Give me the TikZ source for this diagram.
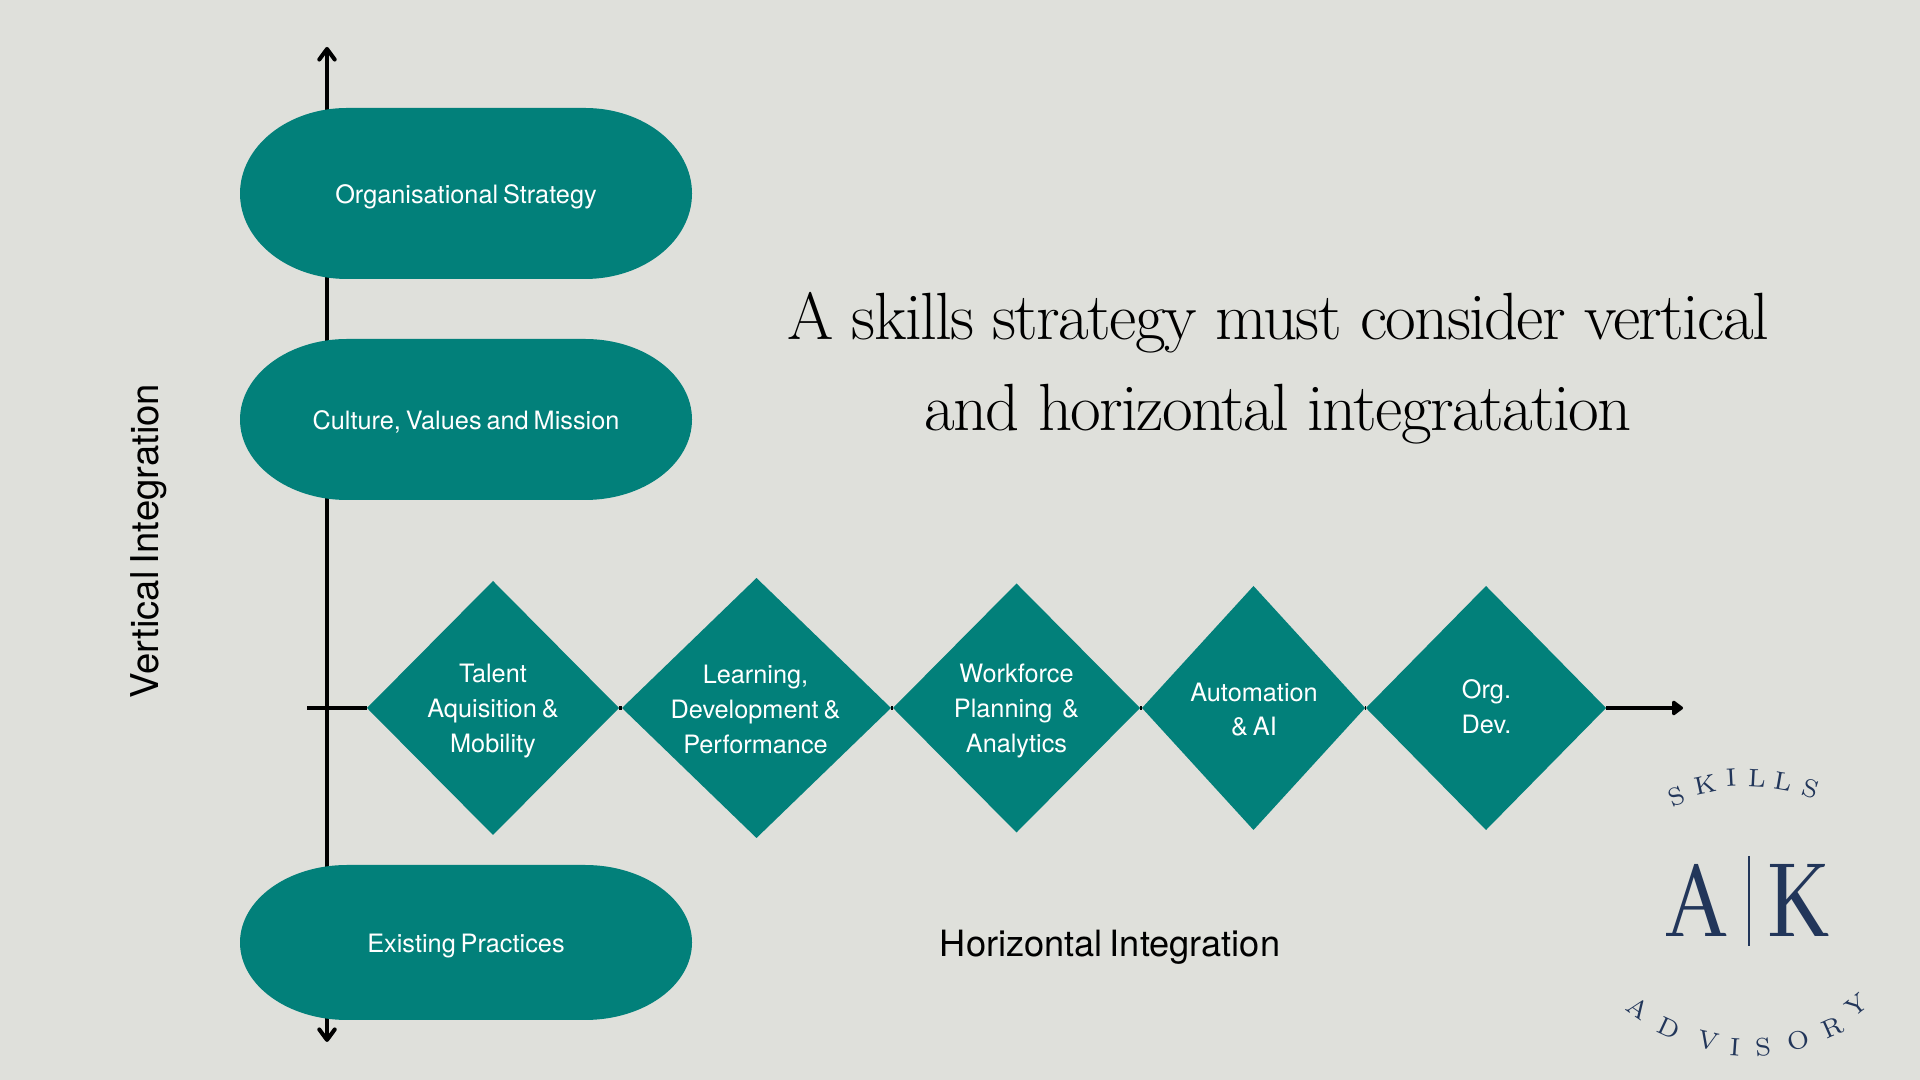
\documentclass[tikz,border=0pt]{standalone}
\usepackage{fontspec}
\setsansfont[WordSpace=0.7]{TeX Gyre Heros}
\newfontfamily\logofont{Abhaya Libre}
\newfontfamily\titlefont[LetterSpace=-2.5]{Latin Modern Roman}
\usepackage{xcolor}
\usepackage{tikz}
\usetikzlibrary{shapes.geometric,arrows.meta,positioning}
\definecolor{pagegrey}{RGB}{223, 224, 219}
\definecolor{skillteal}{RGB}{2, 128, 122}
\definecolor{logonavy}{RGB}{34, 54, 90}

\tikzset{
    axis/.style={line width=1.15pt,black},
    pillbox/.style={rectangle,inner sep=0pt,minimum width=4.52cm,minimum height=#1 cm,
        text=white,text height=7pt,text depth=1.5pt,font=\sffamily\fontsize{7.2}{9.9}\selectfont,
        path picture={\fill[skillteal] (path picture bounding box.west)
            arc[start angle=180,end angle=90,x radius=1.07,y radius=#1/2] -- ++(2.38,0)
            arc[start angle=90,end angle=-90,x radius=1.07,y radius=#1/2] -- ++(-2.38,0)
            arc[start angle=270,end angle=180,x radius=1.07,y radius=#1/2] -- cycle;}},
    diamondbox/.style={diamond,aspect=1,inner sep=0pt,outer sep=0pt,fill=skillteal},
    boxtext/.style={text=white,align=center,inner sep=0pt,font=\sffamily\fontsize{7.2}{9.9}\selectfont},
    axistext/.style={text=black,inner sep=0pt,font=\sffamily\fontsize{#1}{12}\selectfont},
    logobig/.style={text=logonavy,inner sep=0pt,xscale=0.82,transform shape,font=\logofont\fontsize{35}{35}\selectfont},
    logosmall/.style={text=logonavy,inner sep=0pt,font=\rmfamily\fontsize{7.2}{7.2}\selectfont}
}

\begin{document}
\begin{tikzpicture}
    \fill[pagegrey] (0,0) rectangle (19.2,10.8);
    % axes
    \coordinate (vtop) at (3.27,10.33);
    \coordinate (vbottom) at (3.27,0.38);
    \coordinate (htail) at (3.07,3.72);
    \coordinate (hhead) at (16.83,3.72);
    \draw[axis,{Straight Barb[length=3pt,width=4.4pt,round]}-{Straight Barb[length=3pt,width=4.4pt,round]}] (vtop) -- (vbottom);
    % vertical stack
    \node[pillbox=1.71] (strategy) at (4.66,8.865) {Organisational Strategy};
    \node[pillbox=1.61] (culture) at (4.66,6.605) {Culture, Values and Mission};
    \node[pillbox=1.55] (practices) at (4.66,1.375) {Existing Practices};
    % horizontal row
    \node[diamondbox,minimum width=2.52cm,minimum height=2.54cm] (talent) at (4.93,3.72) {};
    \node[diamondbox,minimum width=2.69cm,minimum height=2.60cm] (learning) at (7.565,3.72) {};
    \node[diamondbox,minimum width=2.47cm,minimum height=2.49cm] (workforce) at (10.165,3.72) {};
    \node[diamondbox,minimum width=2.23cm,minimum height=2.44cm] (automation) at (12.535,3.72) {};
    \node[diamondbox,minimum width=2.40cm,minimum height=2.44cm] (orgdev) at (14.86,3.72) {};
    \node[boxtext] (talenttext) at (4.93,3.69) {Talent\\Aquisition \&\\Mobility};
    \node[boxtext] (learningtext) at (7.555,3.705) {Learning,\\Development \&\\Performance};
    \node[boxtext] (workforcetext) at (10.165,3.69) {Workforce\\Planning \ \&\\Analytics};
    \node[boxtext] (automationtext) at (12.54,3.705) {Automation\\\& AI};
    \node[boxtext] (orgdevtext) at (14.865,3.73) {Org.\\Dev.};
    \draw[axis] (htail) -- (talent);
    \draw[axis] (talent) -- (learning);
    \draw[axis] (learning) -- (workforce);
    \draw[axis] (workforce) -- (automation);
    \draw[axis] (automation) -- (orgdev);
    \draw[axis,-{Triangle[length=3.4pt,width=4.8pt,round]}] (orgdev) -- (hhead);
    % labels
    \node[axistext=10.9,rotate=90] (verticallabel) at (1.49,5.39) {Vertical Integration};
    \node[axistext=10.3] (horizontallabel) at (11.1,1.33) {Horizontal Integration};
    \node[align=center,inner sep=0pt,font=\titlefont\fontsize{19}{26}\selectfont] (headline) at (12.78,7.115)
        {A skills strategy must consider vertical\\and horizontal integratation};
    % logo
    \node[logobig,anchor=base] (logoa) at (16.97,1.43) {A};
    \node[logobig,anchor=base] (logok) at (17.98,1.43) {K};
    \draw[logonavy,line width=0.7pt] (17.49,2.24) -- (17.49,1.34);
    \foreach \letter/\px/\py/\rot [count=\i] in {S/16.77/2.83/22,K/17.05/2.95/12,I/17.31/3.02/3,L/17.57/3.02/-3,L/17.83/2.98/-10,S/18.11/2.91/-18,
        A/16.38/0.72/-35,D/16.69/0.52/-25,V/17.08/0.39/-13,I/17.35/0.33/-4,S/17.63/0.33/5,O/17.98/0.40/14,R/18.33/0.52/24,Y/18.57/0.75/38}
        \node[logosmall,rotate=\rot] (logoletter\i) at (\px,\py) {\letter};
\end{tikzpicture}
\end{document}
